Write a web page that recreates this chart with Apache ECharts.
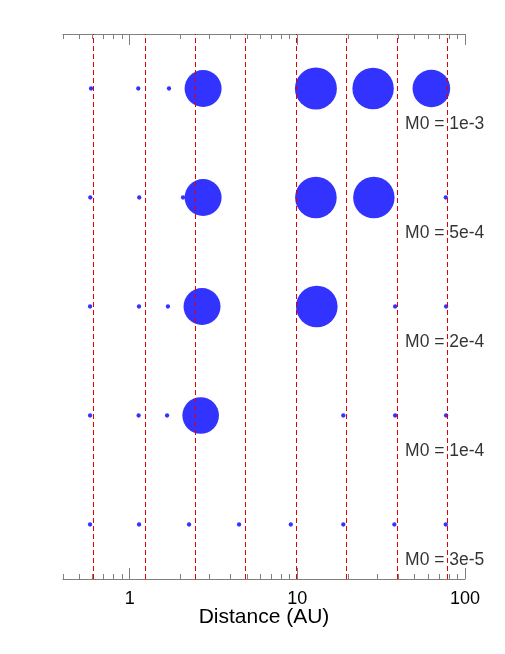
<!DOCTYPE html>
<html>
<head>
<meta charset="utf-8">
<script src="https://cdn.jsdelivr.net/npm/echarts@6/dist/echarts.min.js"></script>
<style>
html,body{margin:0;padding:0;background:#fff;}
#chart{width:505px;height:654px;}
</style>
</head>
<body>
<div id="chart"></div>
<script>
// Row categories (bottom to top) and their labels
var rows = ['3e-5', '1e-4', '2e-4', '5e-4', '1e-3'];
var rowLabels = ['M0 = 3e-5', 'M0 = 1e-4', 'M0 = 2e-4', 'M0 = 5e-4', 'M0 = 1e-3'];

// Planet distances (AU) and masses (Earth masses) per row
var dist_1e3 = [0.588, 1.125, 1.716, 2.74, 12.9, 28.3, 63.0];
var mass_1e3 = [0.5, 0.5, 0.5, 318, 465, 446, 334];

var dist_5e4 = [0.582, 1.14, 2.08, 2.74, 12.9, 28.6, 76.8];
var mass_5e4 = [0.5, 0.5, 0.5, 318, 452, 446, 0.5];

var dist_2e4 = [0.58, 1.136, 1.69, 2.70, 13.06, 38.3, 77.1];
var mass_2e4 = [0.5, 0.5, 0.5, 318, 452, 0.5, 0.5];

var dist_1e4 = [0.58, 1.13, 1.67, 2.65, 18.8, 38.3, 77.1];
var mass_1e4 = [0.5, 0.5, 0.5, 308, 0.5, 0.5, 0.5];

var dist_3e5 = [0.58, 1.137, 2.26, 4.49, 9.14, 18.8, 37.9, 76.8];
var mass_3e5 = [0.5, 0.5, 0.5, 0.5, 0.5, 0.5, 0.5, 0.5];

// Reference dashed lines (AU)
var refLines = [0.6125, 1.225, 2.45, 4.9, 9.8, 19.6, 39.2, 78.4];

// Axis ticks
var majorTicks = [1, 10, 100];
var majorTickLabels = ['1', '10', '100'];
var minorTicks = [0.4, 0.5, 0.6, 0.7, 0.8, 0.9, 2, 3, 4, 5, 6, 7, 8, 9, 20, 30, 40, 50, 60, 70, 80, 90];

var FONT = "'Liberation Sans', Helvetica, Arial, sans-serif";
var TICK = '#808080';

var rowData = [
  [dist_3e5, mass_3e5],
  [dist_1e4, mass_1e4],
  [dist_2e4, mass_2e4],
  [dist_5e4, mass_5e4],
  [dist_1e3, mass_1e3]
];

function sizeOf(m) { return 2 * 18.5 * Math.cbrt(m / 318); }

var labelX = 43.6;

var series = [];
// labels (drawn below the dashed lines)
series.push({
  type: 'scatter',
  z: 1,
  silent: true,
  symbolSize: 1,
  itemStyle: { color: 'rgba(255,255,255,0)' },
  data: rows.map(function (r, i) { return { value: [labelX, r], name: rowLabels[i] }; }),
  label: {
    show: true,
    position: 'right',
    distance: 0,
    offset: [0, 36],
    formatter: function (p) { return p.name; },
    color: '#000',
    fontSize: 17.5,
    fontFamily: FONT
  }
});
// dashed lines
series.push({
  type: 'scatter',
  z: 2,
  silent: true,
  data: [],
  markLine: {
    silent: true,
    symbol: ['none', 'none'],
    label: { show: false },
    animation: false,
    lineStyle: { color: '#e00000', width: 1, type: [5, 3], opacity: 1 },
    data: refLines.map(function (v) { return { xAxis: v, lineStyle: { color: '#e00000' } }; })
  }
});
// planets
rowData.forEach(function (rd, i) {
  series.push({
    type: 'scatter',
    z: 3,
    silent: true,
    data: rd[0].map(function (d, j) { return [d, rows[i], rd[1][j]]; }),
    symbolSize: function (val) { return sizeOf(val[2]); },
    itemStyle: { color: '#3333ff', opacity: 1 }
  });
});

function logAxis(pos, ticks, len, showLabel, showLine) {
  return {
    type: 'log',
    position: pos,
    min: 0.4,
    max: 100,
    logBase: 10,
    gridIndex: 0,
    axisLine: { show: showLine, lineStyle: { color: TICK, width: 1 } },
    axisTick: { show: true, inside: true, length: len, customValues: ticks, lineStyle: { color: TICK, width: 1 } },
    axisLabel: showLabel ? {
      show: true,
      customValues: majorTicks,
      margin: 11,
      color: '#000',
      fontSize: 18,
      fontFamily: FONT,
      formatter: function (v) {
        var k = majorTicks.indexOf(+v);
        return k >= 0 ? majorTickLabels[k] : '';
      }
    } : { show: false },
    splitLine: { show: false },
    minorTick: { show: false },
    name: showLabel ? 'Distance (AU)' : '',
    nameLocation: 'middle',
    nameGap: 28,
    nameMoveOverlap: false,
    nameTextStyle: { color: '#000', fontSize: 21, fontFamily: FONT }
  };
}

var option = {
  animation: false,
  backgroundColor: '#fff',
  grid: { left: 63, right: 40, top: 34, bottom: 75, containLabel: false },
  xAxis: [
    logAxis('bottom', majorTicks, 11, true, true),
    logAxis('top', majorTicks, 11, false, true),
    logAxis('bottom', minorTicks, 5, false, false),
    logAxis('top', minorTicks, 5, false, false)
  ],
  yAxis: {
    type: 'category',
    data: rows,
    boundaryGap: true,
    show: false
  },
  series: series
};

var chart = echarts.init(document.getElementById('chart'), null, { renderer: 'canvas' });
chart.setOption(option);
</script>
</body>
</html>
